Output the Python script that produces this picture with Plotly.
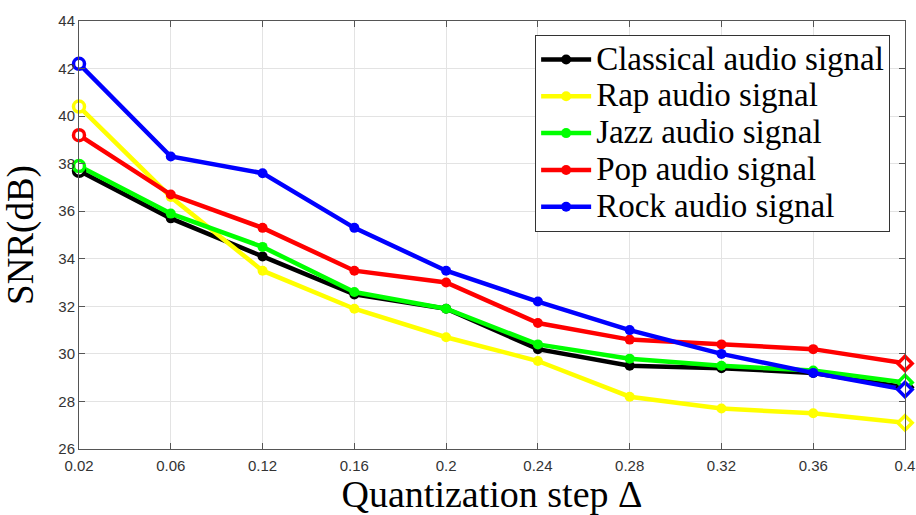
import plotly.graph_objects as go

steps = ["0.02", "0.06", "0.12", "0.16", "0.2", "0.24", "0.28", "0.32", "0.36", "0.4"]
classical = [37.7, 35.7, 34.1, 32.5, 31.9, 30.2, 29.5, 29.4, 29.2, 28.6]
rap = [40.4, 36.6, 33.5, 31.9, 30.7, 29.7, 28.2, 27.7, 27.5, 27.1]
jazz = [37.9, 35.9, 34.5, 32.6, 31.9, 30.4, 29.8, 29.5, 29.3, 28.8]
pop = [39.2, 36.7, 35.3, 33.5, 33.0, 31.3, 30.6, 30.4, 30.2, 29.6]
rock = [42.2, 38.3, 37.6, 35.3, 33.5, 32.2, 31.0, 30.0, 29.2, 28.5]
names = ["Classical audio signal", "Rap audio signal", "Jazz audio signal",
         "Pop audio signal", "Rock audio signal"]
colors = ["#000000", "#FFFF00", "#00FF00", "#FF0000", "#0000FF"]

series = list(zip(names, [classical, rap, jazz, pop, rock], colors))

fig = go.Figure()
for name, vals, col in series:
    fig.add_trace(go.Scatter(
        x=steps, y=vals, name='<span style="font-size:33px">' + name + '</span>',
        mode="lines+markers",
        line=dict(color=col, width=4.5),
        marker=dict(color=col, size=10, symbol="circle"),
        cliponaxis=False,
    ))
# open end markers (first: circle, last: diamond)
for name, vals, col in series:
    fig.add_trace(go.Scatter(
        x=[steps[0], steps[-1]], y=[vals[0], vals[-1]], mode="markers",
        showlegend=False, hoverinfo="skip",
        marker=dict(color="white", size=11, symbol=["circle", "diamond"],
                    line=dict(color=col, width=3.5)),
        cliponaxis=False,
    ))

fig.update_layout(
    width=916, height=515,
    margin=dict(l=79, r=11, t=21, b=66),
    paper_bgcolor="white", plot_bgcolor="white",
    showlegend=True,
    legend=dict(
        x=0.982, y=0.967, xanchor="right", yanchor="top",
        bgcolor="white", bordercolor="#333333", borderwidth=1,
        font=dict(family="Liberation Serif", size=26, color="black"),
        itemwidth=50, tracegroupgap=0,
    ),
    font=dict(family="Liberation Sans", size=15, color="#333333"),
)
fig.update_xaxes(
    type="category", range=[0, len(steps) - 1], automargin=False,
    showgrid=True, gridcolor="#e3e3e3", gridwidth=1,
    showline=True, linecolor="#555555", linewidth=1, mirror="ticks",
    ticks="inside", ticklen=6, tickcolor="#555555", ticklabelstandoff=3,
    tickfont=dict(family="Liberation Sans", size=15, color="#333333"),
    title=dict(text="Quantization step Δ", font=dict(family="Liberation Serif", size=38, color="black")),
)
fig.update_yaxes(
    range=[26, 44], dtick=2, automargin=False,
    showgrid=True, gridcolor="#e3e3e3", gridwidth=1,
    showline=True, linecolor="#555555", linewidth=1, mirror="ticks",
    ticks="inside", ticklen=6, tickcolor="#555555",
    tickfont=dict(family="Liberation Sans", size=15, color="#333333"),
    title=dict(text="SNR(dB)", font=dict(family="Liberation Serif", size=37, color="black")),
    zeroline=False,
)

fig.write_html("out.html", config={"displayModeBar": False},
               post_script="document.body.style.margin='0';document.body.style.overflow='hidden';")
